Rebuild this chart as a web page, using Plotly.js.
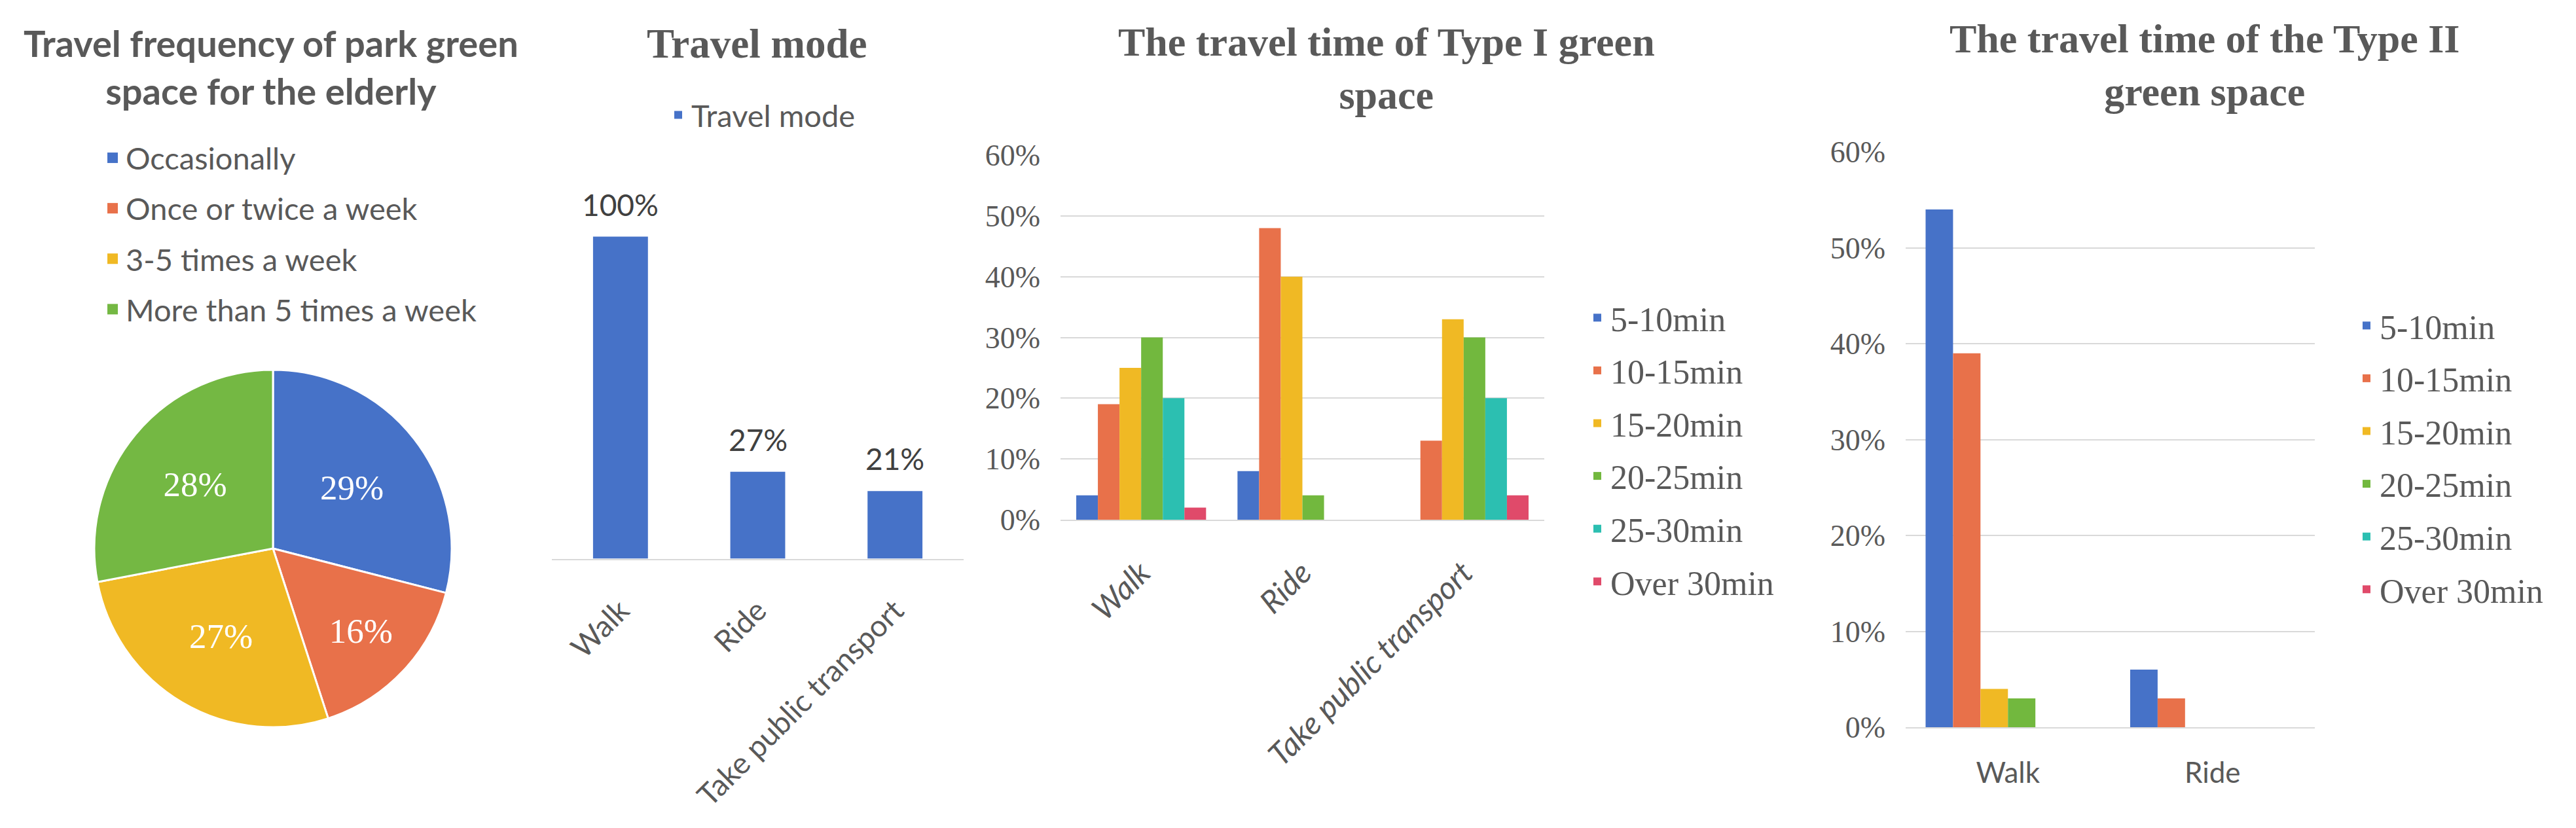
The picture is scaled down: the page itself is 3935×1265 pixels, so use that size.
<!DOCTYPE html>
<html>
<head>
<meta charset="utf-8">
<script src="https://cdn.plot.ly/plotly-3.0.1.min.js"></script>
<style>html,body{margin:0;padding:0;background:#fff;}#chart{width:3935px;height:1265px;}</style>
</head>
<body>
<div id="chart"></div>
<script>
// ---------- data ----------
const freqLabels = ['Occasionally', 'Once or twice a week', '3-5 times a week', 'More than 5 times a week'];
const freqValues = [29, 16, 27, 28];

const modeCats = ['Walk', 'Ride', 'Take public transport'];
const modeValues = [100, 27, 21];

const timeBands = ['5-10min', '10-15min', '15-20min', '20-25min', '25-30min', 'Over 30min'];

const type1Cats = ['Walk', 'Ride', 'Take public transport'];
const type1Walk = [4, 19, 25, 30, 20, 2];
const type1Ride = [8, 48, 40, 4, 0, 0];
const type1Transit = [0, 13, 33, 30, 20, 4];

const type2Cats = ['Walk', 'Ride'];
const type2Walk = [54, 39, 4, 3, 0, 0];
const type2Ride = [6, 3, 0, 0, 0, 0];

const titles = [
  'Travel frequency of park green<br>space for the elderly',
  'Travel mode',
  'The travel time of Type I green<br>space',
  'The travel time of the Type II<br>green space'
];

// ---------- styles ----------
const pieColors = ['#4672C8', '#E8714A', '#F0B924', '#74B843'];
const bandColors = ['#4672C8', '#E8714A', '#F0B924', '#72B83E', '#2CBFB1', '#E04A6A'];
const W = 3935, H = 1265;
const fx = p => p / W;
const fy = p => 1 - p / H;
const SANS = 'Lato, "Open Sans", sans-serif';
const SERIF = '"Liberation Serif", "DejaVu Serif", serif';
const TXT = '#595959';

const traces = [];

// pie (its legend is given by the swatch entries below so the item spacing can be set)
traces.push({
  type: 'pie',
  labels: freqLabels,
  values: freqValues,
  sort: false,
  direction: 'clockwise',
  rotation: 0,
  marker: {colors: pieColors, line: {color: '#ffffff', width: 3}},
  texttemplate: '%{value}%',
  textposition: 'inside',
  insidetextorientation: 'horizontal',
  textfont: {family: SERIF, size: 53, color: '#ffffff'},
  domain: {x: [fx(143), fx(691)], y: [fy(1111), fy(565)]},
  showlegend: false,
  hoverinfo: 'skip'
});

// legend entries for the pie categories
freqLabels.forEach((lab, i) => {
  traces.push({
    type: 'scatter', mode: 'markers',
    x: [null], y: [null],
    xaxis: 'x4', yaxis: 'y4',
    name: lab,
    marker: {symbol: 'square', size: 16, color: pieColors[i]},
    legend: 'legend',
    legendgroup: 'p1' + i,
    showlegend: true,
    hoverinfo: 'skip'
  });
});

traces.push({
  type: 'bar',
  name: 'Travel mode',
  x: modeCats,
  y: modeValues,
  xaxis: 'x', yaxis: 'y',
  width: 0.4,
  marker: {color: '#4672C8'},
  legend: 'legend2',
  showlegend: true,
  hoverinfo: 'skip'
});

timeBands.forEach((band, i) => {
  traces.push({
    type: 'bar',
    name: band,
    x: type1Cats,
    y: [type1Walk[i], type1Ride[i], type1Transit[i]],
    xaxis: 'x2', yaxis: 'y2',
    marker: {color: bandColors[i]},
    legend: 'legend3',
    legendgroup: 'p3' + i,
    hoverinfo: 'skip'
  });
});

timeBands.forEach((band, i) => {
  traces.push({
    type: 'bar',
    name: band,
    x: type2Cats,
    y: [type2Walk[i], type2Ride[i]],
    xaxis: 'x3', yaxis: 'y3',
    marker: {color: bandColors[i]},
    legend: 'legend4',
    legendgroup: 'p4' + i,
    hoverinfo: 'skip'
  });
});

const gridCol = '#d9d9d9';

// data labels for the travel mode bars, placed through the axis scales
const modeLabels = modeCats.map((c, i) => ({
  x: c, y: modeValues[i], xref: 'x', yref: 'y',
  text: modeValues[i] + '%', showarrow: false,
  xanchor: 'center', yanchor: 'bottom', yshift: 20,
  font: {family: SANS, size: 46, color: '#404040'}
}));

const titleAnn = [
  {text: '<b>' + titles[0] + '</b>', x: fx(414), y: fy(102),
   font: {family: SANS, size: 56, color: TXT}},
  {text: '<b>' + titles[1] + '</b>', x: fx(1156), y: fy(67),
   font: {family: SERIF, size: 63, color: TXT}},
  {text: '<b>' + titles[2] + '</b>', x: fx(2118), y: fy(105),
   font: {family: SERIF, size: 62, color: TXT}},
  {text: '<b>' + titles[3] + '</b>', x: fx(3367), y: fy(100),
   font: {family: SERIF, size: 62, color: TXT}}
].map(a => Object.assign({xref: 'paper', yref: 'paper', xanchor: 'center', yanchor: 'middle', showarrow: false}, a));

const layout = {
  width: W, height: H,
  margin: {l: 0, r: 0, t: 0, b: 0},
  paper_bgcolor: '#ffffff',
  plot_bgcolor: 'rgba(0,0,0,0)',
  barmode: 'group',
  bargap: 0.195,
  bargroupgap: 0,
  font: {family: SANS, color: TXT},
  xaxis: {
    domain: [fx(843), fx(1472)], anchor: 'y',
    showline: true, linecolor: gridCol, linewidth: 2,
    showgrid: false, zeroline: false, ticks: '',
    tickangle: -45, tickfont: {family: SANS, size: 46, color: TXT},
    ticklabelstandoff: 32, fixedrange: true
  },
  yaxis: {
    domain: [fy(853.6), fy(312.4)], anchor: 'x',
    range: [0, 110], visible: false, fixedrange: true
  },
  xaxis2: {
    domain: [fx(1620), fx(2359)], anchor: 'y2',
    showline: true, linecolor: gridCol, linewidth: 2,
    showgrid: false, zeroline: false, ticks: '',
    tickangle: -45, tickfont: {family: SANS, size: 48, color: TXT, style: 'italic'},
    ticklabelstandoff: 32, fixedrange: true
  },
  yaxis2: {
    domain: [fy(794), fy(237)], anchor: 'x2',
    range: [0, 60], dtick: 10, ticksuffix: '%',
    showgrid: true, gridcolor: gridCol, gridwidth: 2,
    zeroline: false, showline: false, ticks: '',
    tickfont: {family: SERIF, size: 46, color: TXT},
    ticklabelstandoff: 30, fixedrange: true
  },
  xaxis3: {
    domain: [fx(2911), fx(3536)], anchor: 'y3',
    showline: true, linecolor: gridCol, linewidth: 2,
    showgrid: false, zeroline: false, ticks: '',
    tickangle: 0, tickfont: {family: SANS, size: 44, color: TXT},
    ticklabelstandoff: 30, fixedrange: true
  },
  yaxis3: {
    domain: [fy(1111), fy(232)], anchor: 'x3',
    range: [0, 60], dtick: 10, ticksuffix: '%',
    showgrid: true, gridcolor: gridCol, gridwidth: 2,
    zeroline: false, showline: false, ticks: '',
    tickfont: {family: SERIF, size: 46, color: TXT},
    ticklabelstandoff: 30, fixedrange: true
  },
  xaxis4: {domain: [0, 0.001], anchor: 'y4', visible: false, fixedrange: true},
  yaxis4: {domain: [0, 0.001], anchor: 'x4', visible: false, fixedrange: true},
  legend: {
    x: fx(152), y: fy(204), xanchor: 'left', yanchor: 'top',
    font: {family: SANS, size: 47, color: TXT},
    bgcolor: 'rgba(0,0,0,0)', tracegroupgap: 13, traceorder: 'grouped'
  },
  legend2: {
    x: fx(1016), y: fy(176), xanchor: 'left', yanchor: 'middle',
    font: {family: SANS, size: 47, color: TXT},
    bgcolor: 'rgba(0,0,0,0)'
  },
  legend3: {
    x: fx(2420), y: fy(445), xanchor: 'left', yanchor: 'top',
    font: {family: SERIF, size: 52, color: TXT},
    bgcolor: 'rgba(0,0,0,0)', tracegroupgap: 10, traceorder: 'grouped'
  },
  legend4: {
    x: fx(3595), y: fy(457), xanchor: 'left', yanchor: 'top',
    font: {family: SERIF, size: 52, color: TXT},
    bgcolor: 'rgba(0,0,0,0)', tracegroupgap: 10, traceorder: 'grouped'
  },
  annotations: titleAnn.concat(modeLabels)
};

Plotly.newPlot('chart', traces, layout, {displayModeBar: false, staticPlot: true});
</script>
</body>
</html>
